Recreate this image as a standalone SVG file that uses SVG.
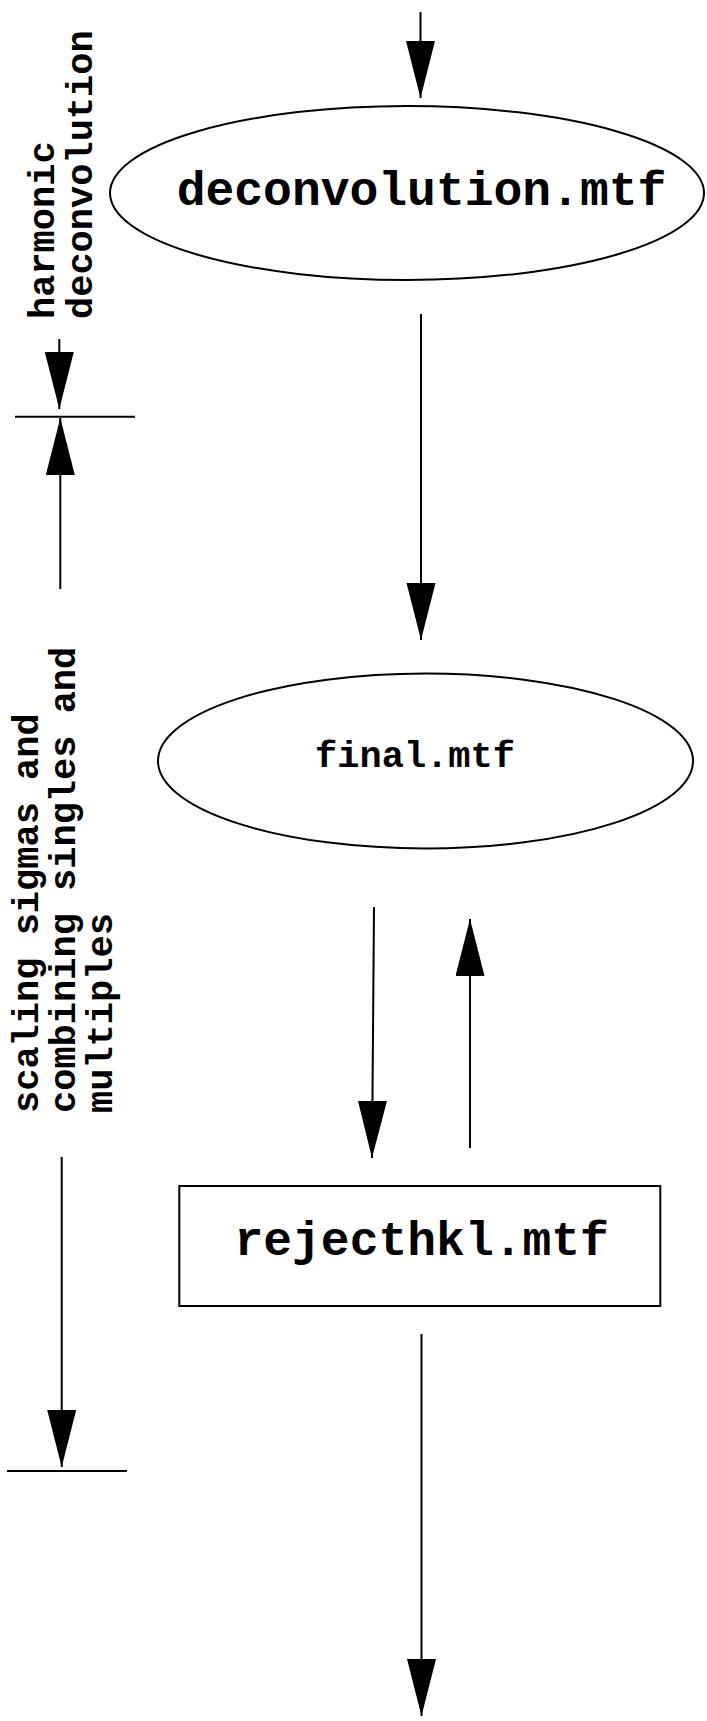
<svg xmlns="http://www.w3.org/2000/svg" width="707" height="1721" viewBox="0 0 707 1721">
  <style>
    .shape { fill: #fff; stroke: #000; stroke-width: 2; }
    .line { stroke: #000; stroke-width: 2; fill: none; }
    .lbl { font-family: "Liberation Mono", "Courier New", monospace; font-weight: bold; fill: #000; }
  </style>
  <defs>
    <marker id="arr" markerUnits="userSpaceOnUse" markerWidth="58" markerHeight="30" refX="57" refY="14.5" orient="auto">
      <path d="M0,0 L57,14.5 L0,29 z" fill="#000"/>
    </marker>
  </defs>
  <rect width="707" height="1721" fill="#fff"/>

  <g id="connectors">
    <line class="line" x1="420.5" y1="12" x2="420.5" y2="98" marker-end="url(#arr)"/>
    <line class="line" x1="421" y1="314" x2="421" y2="640" marker-end="url(#arr)"/>
    <line class="line" x1="374" y1="907" x2="372" y2="1158" marker-end="url(#arr)"/>
    <line class="line" x1="470" y1="1148" x2="470" y2="919" marker-end="url(#arr)"/>
    <line class="line" x1="421.5" y1="1334" x2="421.5" y2="1716" marker-end="url(#arr)"/>
    <line class="line" x1="59.3" y1="339" x2="59.3" y2="409" marker-end="url(#arr)"/>
    <line class="line" x1="60.3" y1="589" x2="60.3" y2="418" marker-end="url(#arr)"/>
    <line class="line" x1="61.7" y1="1157" x2="61.7" y2="1467" marker-end="url(#arr)"/>
    <line class="line" x1="15" y1="416.7" x2="135" y2="416.7"/>
    <line class="line" x1="7" y1="1471" x2="127" y2="1471"/>
  </g>

  <g id="node-deconvolution">
    <ellipse class="shape" cx="407" cy="193" rx="297" ry="87"/>
    <text class="lbl" x="421.5" y="205" font-size="48" text-anchor="middle">deconvolution.mtf</text>
  </g>

  <g id="node-final">
    <ellipse class="shape" cx="425.5" cy="761" rx="267.5" ry="87.5"/>
    <text class="lbl" x="415" y="767" font-size="37" text-anchor="middle">final.mtf</text>
  </g>

  <g id="node-rejecthkl">
    <rect class="shape" x="179.3" y="1186" width="481" height="120"/>
    <text class="lbl" x="421.7" y="1255" font-size="48" text-anchor="middle">rejecthkl.mtf</text>
  </g>

  <g id="label-harmonic">
    <text class="lbl" font-size="37" transform="translate(53.5,319) rotate(-90)">harmonic</text>
    <text class="lbl" font-size="37" transform="translate(91.5,319) rotate(-90)">deconvolution</text>
  </g>

  <g id="label-scaling">
    <text class="lbl" font-size="37" transform="translate(37.5,1113) rotate(-90)">scaling sigmas and</text>
    <text class="lbl" font-size="37" transform="translate(74.5,1113) rotate(-90)">combining singles and</text>
    <text class="lbl" font-size="37" transform="translate(111.5,1113) rotate(-90)">multiples</text>
  </g>
</svg>
